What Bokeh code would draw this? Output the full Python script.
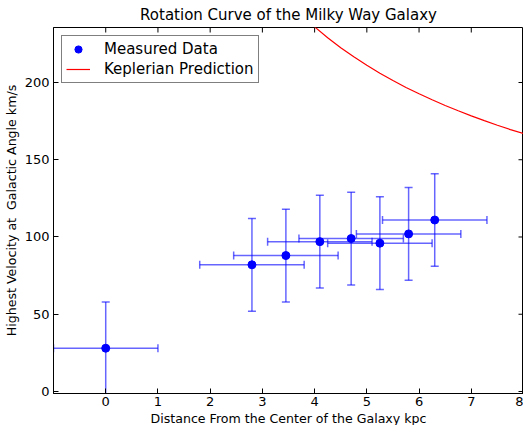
import math
from bokeh.plotting import figure
from bokeh.models import ColumnDataSource, Whisker, TeeHead, Legend, LegendItem, FixedTicker, Range1d, Title
from bokeh.embed import file_html
from bokeh.resources import INLINE

# Data
distance = [0.0, 2.8, 3.45, 4.1, 4.7, 5.25, 5.8, 6.3]
velocity = [28, 82, 88, 97, 99, 96, 102, 111]
vel_err = [30, 30, 30, 30, 30, 30, 30, 30]
dist_err = [1, 1, 1, 1, 1, 1, 1, 1]

kep_r = [3.9, 4.0, 4.25, 4.5, 4.75, 5.0, 5.25, 5.5, 5.75, 6.0, 6.25, 6.5, 6.75, 7.0, 7.25, 7.5, 7.75, 8.0]
kep_v = [239, 236, 229, 222.5, 216.6, 211.1, 206, 201.3, 196.8, 192.7, 188.8, 185.1, 181.7, 178.4, 175.3, 172.3, 169.5, 166.9]

x_ticks = [0, 1, 2, 3, 4, 5, 6, 7, 8]
y_ticks = [0, 50, 100, 150, 200]
x_lim = (-1, 8)
y_lim = (-1.3, 235.6)

FONT = "DejaVu Sans"

src = ColumnDataSource(dict(
    x=distance, y=velocity,
    ylo=[v - e for v, e in zip(velocity, vel_err)],
    yhi=[v + e for v, e in zip(velocity, vel_err)],
    xlo=[d - e for d, e in zip(distance, dist_err)],
    xhi=[d + e for d, e in zip(distance, dist_err)],
))

p = figure(frame_width=470, frame_height=366, output_backend="svg", toolbar_location=None,
           x_range=Range1d(*x_lim), y_range=Range1d(*y_lim),
           title="Rotation Curve of the Milky Way Galaxy",
           min_border_left=0, min_border_right=0, min_border_top=0, min_border_bottom=0)

p.title.align = "center"
p.title.text_font = FONT
p.title.text_font_size = "15px"
p.title.text_font_style = "normal"
p.title.text_color = "black"
p.title.standoff = 7

p.xgrid.visible = False
p.ygrid.visible = False
p.outline_line_color = "black"
p.outline_line_width = 1
p.background_fill_color = "white"
p.border_fill_color = "white"

for ax in (p.xaxis[0], p.yaxis[0]):
    ax.major_tick_in = 5
    ax.major_tick_out = 0
    ax.minor_tick_in = 0
    ax.minor_tick_out = 0
    ax.axis_line_color = "black"
    ax.major_label_text_font = FONT
    ax.major_label_text_font_size = "13px"
    ax.major_label_text_color = "black"
    ax.axis_label_text_font = FONT
    ax.axis_label_text_font_size = "12.6px"
    ax.axis_label_text_font_style = "normal"
    ax.axis_label_text_color = "black"

p.xaxis[0].ticker = FixedTicker(ticks=x_ticks)
p.yaxis[0].ticker = FixedTicker(ticks=y_ticks)
p.yaxis[0].axis_label = "Highest Velocity at \u00a0Galactic Angle km/s"
p.yaxis[0].axis_label_standoff = 3
p.xaxis[0].major_label_standoff = 3
p.yaxis[0].major_label_standoff = 4

xlabel = Title(text="Distance From the Center of the Galaxy kpc", align="center",
               text_font=FONT, text_font_size="12.6px", text_font_style="normal",
               text_color="black", standoff=0, offset=0)
p.add_layout(xlabel, "below")

# inward ticks on the top and right edges of the frame
p.scatter(x=[x_lim[1]] * len(y_ticks), y=y_ticks, marker="dash", size=10,
          line_color="black", line_width=1)
p.scatter(x=x_ticks, y=[y_lim[1]] * len(x_ticks), marker="dash", size=10,
          angle=math.pi / 2, line_color="black", line_width=1)

# Error bars
err_color = "#0000ff"
def tee():
    return TeeHead(size=8, line_color=err_color, line_alpha=0.6, line_width=1.5)
vw = Whisker(source=src, base="x", lower="ylo", upper="yhi", dimension="height",
             line_color=err_color, line_alpha=0.6, line_width=1.5,
             upper_head=tee(), lower_head=tee())
hw = Whisker(source=src, base="y", lower="xlo", upper="xhi", dimension="width",
             line_color=err_color, line_alpha=0.6, line_width=1.5,
             upper_head=tee(), lower_head=tee())
p.add_layout(vw)
p.add_layout(hw)

pts = p.scatter("x", "y", source=src, size=8, color="#0000ff")
kep = p.line(kep_r, kep_v, line_color="#ff0000", line_width=1.2)

legend = Legend(items=[LegendItem(label="Measured Data", renderers=[pts]),
                       LegendItem(label="Keplerian Prediction", renderers=[kep])],
                location="top_left")
legend.label_text_font = FONT
legend.label_text_font_size = "15px"
legend.label_text_color = "black"
legend.border_line_color = "black"
legend.border_line_width = 1
legend.background_fill_alpha = 1
legend.glyph_width = 24
legend.glyph_height = 18
legend.spacing = 2
legend.padding = 4
legend.margin = 8
legend.label_standoff = 14
p.add_layout(legend)

open("out.html", "w").write(file_html(p, INLINE))
